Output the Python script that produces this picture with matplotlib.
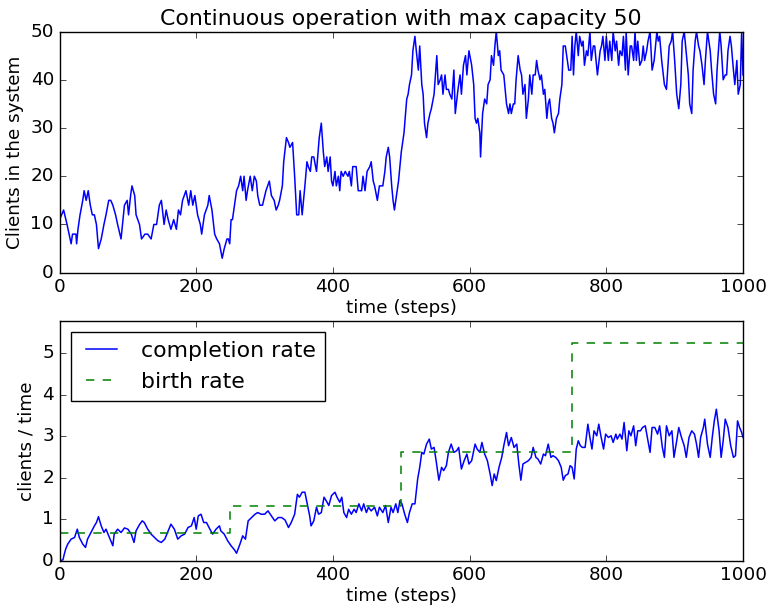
import matplotlib
matplotlib.use("Agg")
import matplotlib.pyplot as plt
import numpy as np

# ── clients in the system ────────────────────────────────────────────────────
clients_t = [0, 3, 6, 11, 14, 17, 19, 22, 24, 25, 27, 30, 34, 36, 39, 42, 45, 48, 51, 54,
             57, 61, 65, 68, 72, 75, 78, 82, 85, 90, 95, 99, 101, 104, 106, 110, 112, 117,
             120, 125, 129, 134, 138, 142, 146, 149, 153, 156, 159, 163, 167, 171, 174,
             177, 180, 185, 189, 192, 195, 198, 202, 206, 208, 212, 217, 219, 223, 227,
             230, 234, 238, 241, 245, 247, 249, 251, 253, 256, 259, 262, 265, 268, 270,
             273, 275, 279, 282, 285, 288, 290, 293, 297, 302, 307, 310, 314, 317, 320,
             322, 326, 328, 332, 335, 337, 341, 344, 347, 350, 352, 355, 359, 362, 364,
             367, 369, 372, 376, 380, 383, 386, 388, 391, 393, 396, 398, 400, 403, 405,
             408, 410, 412, 415, 418, 422, 424, 427, 429, 434, 437, 442, 444, 447, 450,
             454, 456, 459, 461, 465, 468, 473, 476, 478, 481, 483, 486, 488, 490, 493,
             496, 500, 504, 508, 510, 512, 515, 517, 520, 522, 525, 527, 530, 532, 534,
             537, 539, 542, 544, 548, 552, 554, 557, 559, 561, 564, 566, 569, 571, 574,
             577, 579, 583, 586, 588, 591, 594, 596, 599, 603, 606, 608, 610, 612, 615,
             616, 619, 622, 625, 627, 630, 632, 635, 637, 639, 642, 644, 646, 650, 654,
             657, 659, 661, 664, 666, 668, 671, 674, 676, 678, 681, 683, 686, 688, 691,
             693, 696, 698, 700, 703, 705, 708, 710, 713, 715, 717, 720, 722, 724, 727,
             730, 732, 735, 737, 740, 742, 745, 748, 750, 752, 754, 756, 759, 761, 764,
             766, 768, 771, 773, 776, 778, 781, 783, 787, 791, 793, 795, 798, 800, 803,
             805, 808, 810, 813, 815, 818, 820, 823, 825, 828, 829, 832, 835, 837, 840,
             842, 844, 846, 849, 852, 854, 856, 859, 861, 864, 867, 870, 874, 876, 878,
             881, 885, 888, 892, 895, 897, 900, 903, 906, 909, 911, 914, 916, 920, 922,
             925, 927, 930, 932, 935, 937, 940, 943, 945, 948, 952, 954, 957, 960, 962,
             966, 968, 971, 974, 976, 978, 981, 983, 986, 988, 991, 993, 996, 998, 1000]
clients_n = [11, 12, 13, 10, 8, 6, 8, 8, 8, 6, 9, 12, 15, 17, 15, 17, 14, 12, 12, 10,
             5, 7, 10, 12, 15, 15, 14, 12, 10, 7, 14, 15, 12, 16, 18, 16, 12, 10,
             7, 8, 8, 7, 10, 10, 14, 15, 10, 13, 11, 9, 11, 9, 13,
             12, 15, 17, 14, 17, 14, 16, 12, 10, 8, 12, 14, 16, 13, 8,
             7, 6, 3, 5, 7, 7, 6, 11, 11, 14, 17, 18, 20, 17, 20,
             15, 17, 20, 17, 20, 19, 16, 14, 14, 17, 19, 16, 15, 13, 14,
             15, 18, 23, 28, 27, 26, 27, 20, 12, 12, 17, 12, 18, 23, 22,
             21, 24, 24, 21, 28, 31, 25, 22, 24, 21, 24, 19, 18, 21, 18,
             20, 17, 21, 20, 21, 20, 21, 18, 22, 22, 17, 17, 20, 17, 21,
             22, 23, 19, 18, 15, 18, 18, 21, 24, 26, 24, 18, 15, 13, 16,
             19, 25, 29, 36, 37, 39, 41, 46, 49, 46, 42, 47, 39, 37, 31,
             28, 31, 33, 34, 37, 45, 39, 40, 41, 37, 41, 38, 38, 37, 36,
             42, 33, 38, 41, 37, 43, 45, 41, 46, 43, 39, 32, 31, 32, 29,
             24, 33, 36, 35, 39, 40, 45, 43, 47, 50, 45, 46, 42, 41, 35,
             33, 35, 33, 35, 35, 40, 45, 42, 41, 37, 39, 32, 36, 41, 37,
             41, 41, 44, 42, 40, 41, 37, 38, 32, 35, 36, 32, 31, 29, 32,
             33, 36, 39, 47, 47, 45, 42, 42, 49, 41, 47, 50, 45, 49, 47,
             48, 43, 46, 45, 50, 44, 47, 47, 41, 46, 47, 49, 44, 49, 44,
             48, 44, 50, 46, 48, 43, 46, 45, 49, 42, 50, 41, 47, 47, 44,
             50, 44, 48, 43, 44, 47, 44, 46, 48, 50, 42, 44, 50, 48, 49,
             44, 39, 38, 47, 48, 50, 44, 37, 34, 39, 48, 50, 47, 41, 35,
             33, 42, 48, 50, 47, 46, 43, 39, 44, 50, 46, 42, 37, 35, 42,
             50, 47, 40, 41, 41, 46, 49, 47, 42, 39, 44, 37, 39, 50, 41]

# ── completion rate ──────────────────────────────────────────────────────────
rate_t = [0, 5, 7, 9, 12, 17, 22, 26, 29, 34, 38, 41, 46, 51, 54, 57, 61, 65, 68, 73,
          78, 80, 85, 90, 95, 100, 105, 109, 112, 117, 121, 124, 129, 134, 139, 144,
          149, 154, 158, 163, 168, 173, 178, 183, 188, 193, 197, 200, 203, 207, 211,
          215, 220, 224, 229, 234, 236, 241, 246, 251, 256, 259, 264, 268, 272, 276,
          281, 286, 290, 295, 300, 305, 310, 315, 320, 325, 330, 335, 339, 344, 348,
          351, 355, 359, 363, 366, 368, 372, 376, 379, 383, 387, 390, 394, 398, 403,
          406, 410, 413, 416, 420, 423, 427, 431, 434, 438, 442, 445, 449, 452, 456,
          461, 465, 468, 473, 477, 481, 485, 488, 492, 495, 498, 501, 505, 509, 512,
          516, 520, 524, 527, 530, 533, 537, 541, 544, 548, 551, 555, 559, 562, 566,
          569, 573, 577, 581, 584, 588, 592, 596, 599, 603, 608, 611, 615, 618, 622,
          626, 630, 633, 636, 639, 643, 647, 650, 654, 657, 661, 665, 669, 672, 675,
          678, 682, 686, 690, 693, 697, 700, 704, 708, 711, 715, 719, 722, 726, 730,
          734, 737, 740, 744, 747, 750, 753, 756, 759, 762, 765, 769, 773, 776, 779,
          782, 786, 789, 792, 796, 799, 803, 807, 810, 814, 816, 820, 823, 826, 830,
          833, 836, 840, 843, 846, 850, 853, 857, 860, 864, 867, 871, 875, 878, 882,
          885, 888, 892, 896, 899, 903, 906, 910, 914, 917, 921, 925, 929, 932, 935,
          938, 942, 944, 948, 952, 955, 958, 961, 965, 968, 971, 974, 978, 982, 986,
          989, 992, 995, 998, 1000]
rate_v = [0.0, 0.02, 0.16, 0.28, 0.40, 0.52, 0.56, 0.76, 0.56, 0.40, 0.32, 0.52, 0.68,
          0.84, 0.92, 1.06, 0.84, 0.68, 0.76, 0.56, 0.36, 0.64, 0.76, 0.68, 0.79, 0.76,
          0.64, 0.44, 0.72, 0.87, 0.96, 0.92, 0.76, 0.64, 0.56, 0.48, 0.44, 0.52, 0.68,
          0.88, 0.76, 0.52, 0.60, 0.64, 0.80, 0.84, 1.04, 0.76, 1.08, 1.12, 0.92, 0.92,
          0.76, 0.64, 0.76, 0.84, 0.72, 0.64, 0.48, 0.36, 0.26, 0.18, 0.40, 0.60, 0.52,
          0.96, 1.04, 1.12, 1.16, 1.12, 1.12, 1.20, 1.08, 0.96, 1.04, 1.04, 0.98, 0.80,
          0.92, 1.12, 1.60, 1.53, 1.65, 1.65, 1.33, 1.08, 0.84, 0.96, 1.29, 1.12, 1.16,
          1.53, 1.45, 1.33, 1.57, 1.65, 1.53, 1.41, 1.53, 1.16, 1.04, 1.24, 1.12, 1.24,
          1.16, 1.37, 1.20, 1.37, 1.16, 1.29, 1.20, 1.29, 1.08, 1.29, 1.16, 1.33, 0.92,
          1.29, 1.16, 1.37, 1.16, 1.45, 1.37, 1.12, 0.92, 1.16, 1.37, 1.37, 1.97, 2.25,
          2.61, 2.57, 2.81, 2.93, 2.69, 2.73, 2.41, 1.94, 2.25, 2.17, 2.29, 2.61, 2.81,
          2.61, 2.65, 2.73, 2.21, 2.41, 2.57, 2.33, 2.41, 2.81, 2.69, 2.61, 2.85, 2.57,
          2.41, 2.09, 1.81, 2.09, 1.93, 2.25, 2.49, 2.77, 3.09, 2.77, 2.97, 2.73, 2.81,
          2.33, 1.94, 2.33, 2.37, 2.41, 2.49, 2.73, 2.49, 2.45, 2.33, 2.57, 2.53, 2.81,
          2.49, 2.53, 2.49, 2.41, 2.25, 1.94, 2.05, 2.09, 2.29, 2.25, 1.97, 2.69, 2.89,
          2.77, 2.73, 2.73, 3.29, 2.97, 2.69, 3.13, 3.01, 3.29, 3.01, 2.69, 3.05, 2.97,
          3.01, 2.85, 3.05, 2.93, 3.05, 2.93, 3.33, 2.65, 3.13, 3.01, 3.25, 2.77, 3.13,
          3.13, 3.21, 3.25, 2.97, 2.61, 3.21, 3.21, 3.05, 3.25, 2.73, 2.49, 3.25, 3.01,
          3.13, 2.49, 2.89, 3.21, 2.97, 2.77, 2.49, 2.97, 3.13, 3.05, 2.81, 2.49, 2.97,
          3.21, 3.41, 2.81, 2.49, 2.97, 3.37, 3.65, 3.13, 2.49, 2.89, 3.41, 3.21, 2.77,
          2.49, 2.53, 3.37, 3.21, 3.09, 2.97]

# ── birth rate (piecewise constant, doubles every 250 steps) ────────────────
birth_edges = [0, 250, 500, 750, 1000]
birth_rates = [0.65625, 1.3125, 2.625, 5.25]

capacity = 50
n_steps = 1000

plt.style.use("classic")
plt.rcParams.update({
    "figure.facecolor":  "white",
    "savefig.facecolor": "white",
    "font.size":         13.2,
    "lines.linewidth":   1.1,
    "xtick.major.size":  4.4,
    "ytick.major.size":  4.4,
    "xtick.minor.size":  2.2,
    "ytick.minor.size":  2.2,
})

fig = plt.figure(figsize=(7.69, 6.13), dpi=100)
ax1 = fig.add_axes([0.0774, 0.5551, 0.8888, 0.3935])
ax2 = fig.add_axes([0.0774, 0.0853, 0.8888, 0.3910])

# top: number of clients
ax1.plot(clients_t, clients_n, "b-")
ax1.set_xlim(0, n_steps)
ax1.set_ylim(0, capacity)
ax1.set_xlabel("time (steps)", labelpad=2)
ax1.set_ylabel("Clients in the system")
ax1.set_title(f"Continuous operation with max capacity {capacity}")

# bottom: rates
ax2.plot(rate_t, rate_v, "b-", label="completion rate")
ax2.step(birth_edges, birth_rates + [birth_rates[-1]], "g--", where="post",
         label="birth rate")
ax2.set_xlim(0, n_steps)
ax2.set_ylim(0, 1.1 * max(birth_rates))
ax2.set_xlabel("time (steps)", labelpad=2)
ax2.set_ylabel("clients / time")
ax2.legend(loc="upper left")

fig.savefig("out.png", dpi=100)
